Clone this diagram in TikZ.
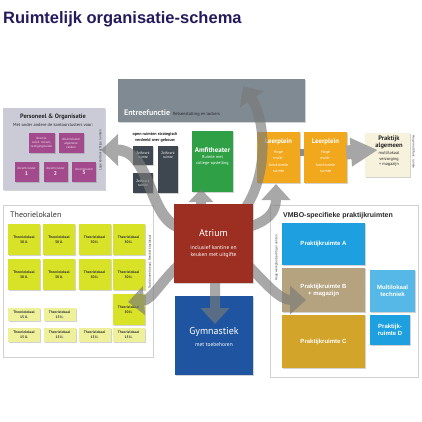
\documentclass[tikz,border=0pt]{standalone}
\usepackage{fontspec}
\setmainfont{Liberation Sans}
\newfontfamily\my{PT Sans}
\usetikzlibrary{arrows.meta,shadows}
\newcommand\myfs[2]{\fontsize{#1}{#2}\selectfont}
\definecolor{titlec}{HTML}{241A5C}
\definecolor{persoc}{HTML}{CBCBD8}
\definecolor{purp}{HTML}{A24A8C}
\definecolor{entreec}{HTML}{808A93}
\definecolor{zelfc}{HTML}{3E474F}
\definecolor{amfic}{HTML}{30A046}
\definecolor{leerc}{HTML}{F2A81D}
\definecolor{prakc}{HTML}{F6F2DC}
\definecolor{yelc}{HTML}{D8E226}
\definecolor{paleyel}{HTML}{EEF19A}
\definecolor{atric}{HTML}{9C2F22}
\definecolor{gymc}{HTML}{1F55A0}
\definecolor{pac}{HTML}{1EA0E0}
\definecolor{pbc}{HTML}{B5A37F}
\definecolor{pcc}{HTML}{D2A42A}
\definecolor{mlc}{HTML}{56B8E6}
\definecolor{arrc}{HTML}{7A7A7A}
\tikzset{
  box/.style={draw=none, inner sep=0.5pt, align=center,
    drop shadow={opacity=0.35, shadow xshift=1.2pt, shadow yshift=-1.2pt}},
  frame/.style={draw=black!18, line width=0.8pt, fill=white,
    drop shadow={opacity=0.2, shadow xshift=1.2pt, shadow yshift=-1.2pt}},
  vtext/.style={font=\my\myfs{3.3}{4}, text=black!80, inner sep=0pt},
  txt/.style={inner sep=0pt, align=center},
  yel/.style={box, fill=yelc, minimum width=32pt, minimum height=31pt,
    font=\my\bfseries\myfs{3.6}{5}, text=black!80},
  syel/.style={box, fill=paleyel, minimum width=32pt, minimum height=13.5pt,
    font=\my\bfseries\myfs{3.6}{4.6}, text=black!80},
  purpbox/.style={box, fill=purp, font=\my\myfs{3.2}{3.9}, text=white!85!purp},
  zelf/.style={box, fill=zelfc, minimum width=20pt, font=\my\myfs{3.6}{4.4}, text=white!80},
  garrow/.style={draw=arrc, line width=10pt, -{Triangle[width=28pt,length=16pt]}},
}
\begin{document}
\begin{tikzpicture}[x=1pt,y=-1pt]
\useasboundingbox (0,0) rectangle (422,422);

% title
\node[anchor=base west, inner sep=0pt, font=\bfseries\myfs{16.5}{18}, text=titlec] (title) at (3,24) {Ruimtelijk organisatie-schema};

% Personeel & Organisatie
\node[box, fill=persoc, minimum width=102pt, minimum height=82pt] (perso) at (54,149) {};
\node[txt, font=\my\bfseries\myfs{6.3}{7}, text=black!85] (persot) at (53,117) {Personeel \& Organisatie};
\node[txt, font=\my\myfs{4.4}{5}, text=black!85] (persos) at (53,125) {Met onder andere de kantoorclusters voor:};
\node[purpbox, minimum width=26pt, minimum height=20pt] (pu1) at (41.5,143) {directie,\\coörd. docent,\\vestigingsleider};
\node[purpbox, minimum width=25pt, minimum height=20pt] (pu2) at (71,143) {docentcluster\\algemene\\vakken};
\node[purpbox, minimum width=24pt, minimum height=20pt] (pu3) at (26.5,171.5) {docentcluster\\[0.5pt]{\myfs{5.5}{6}\bfseries 1}};
\node[purpbox, minimum width=24pt, minimum height=20pt] (pu4) at (55.5,171.5) {docentcluster\\[0.5pt]{\myfs{5.5}{6}\bfseries 2}};
\node[purpbox, minimum width=24pt, minimum height=20pt] (pu5) at (84,171.5) {docentcluster\\[0.5pt]{\myfs{5.5}{6}\bfseries 3}};
\node[vtext, rotate=90] (persov) at (100.5,150) {Lage kantoorachtige ruimten};

% Entreefunctie
\node[box, fill=entreec, minimum width=187pt, minimum height=43pt] (entree) at (211.5,100.5) {};
\node[anchor=base west, inner sep=0pt, font=\my\bfseries\myfs{8}{9}, text=white!92!entreec] (entreet) at (124,115.5) {Entreefunctie};
\node[anchor=base west, inner sep=0pt, xshift=2.5pt, font=\my\myfs{4.4}{5}, text=black!85] (entrees) at (entreet.base east) {fietsenstalling en lockers};

% open ruimten / zelfwerk
\node[txt, font=\my\bfseries\myfs{4.2}{5.6}, text=black!90] (open) at (155,137.5) {open ruimten strategisch\\verdeeld over gebouw};
\node[zelf, minimum height=19pt] (z1) at (143,155.5) {Zelfwerk\\ruimte};
\node[zelf, minimum height=47pt] (z2) at (168,169.5) {};
\node[txt, font=\my\myfs{3.6}{4.4}, text=white!80] (z2t) at (168,155.5) {Zelfwerk\\ruimte};
\node[zelf, minimum height=20pt] (z3) at (143,183) {Zelfwerk\\ruimte};

% Amfitheater
\node[box, fill=amfic, minimum width=41pt, minimum height=61pt] (amfi) at (212.5,161.5) {};
\node[txt, font=\my\bfseries\myfs{7}{8}, text=white] (amfit) at (212.5,150) {Amfitheater};
\node[txt, font=\my\myfs{4.2}{6}, text=white!90] (amfis) at (212.5,160.5) {Ruimte met\\college-opstelling};

% Leerplein
\node[box, fill=leerc, minimum width=43pt, minimum height=51pt] (lp1) at (278.5,157.5) {};
\node[box, fill=leerc, minimum width=43pt, minimum height=51pt] (lp2) at (325.5,157.5) {};
\node[txt, font=\my\bfseries\myfs{6.8}{8}, text=white] (lp1t) at (278.5,142) {Leerplein};
\node[txt, font=\my\bfseries\myfs{6.8}{8}, text=white] (lp2t) at (325.5,142) {Leerplein};
\node[txt, font=\my\myfs{4}{6.3}, text=white!92] (lp1s) at (278.5,161.5) {Hoge\\multi-\\functionele\\ruimte};
\node[txt, font=\my\myfs{4}{6.3}, text=white!92] (lp2s) at (325.5,161.5) {Hoge\\multi-\\functionele\\ruimte};
\draw[line width=7pt, draw=black!45] ([yshift=5.5pt]lp1.east) -- ([yshift=5.5pt]lp2.west);

% Praktijk algemeen
\node[box, fill=prakc, minimum width=45pt, minimum height=44pt] (prak) at (387.5,155) {};
\node[txt, font=\my\bfseries\myfs{6.5}{6.8}, text=black!85] (prakt) at (389,142.5) {Praktijk\\algemeen};
\node[txt, font=\my\myfs{4.3}{5.8}, text=black!85] (praks) at (389,159) {multilokaal\\verzorging\\+ magazijn};
\node[vtext, rotate=-90] (prakv) at (413.5,152) {Hoge multifunc. ruimte};
\coordinate (praktip) at ([xshift=13pt,yshift=5pt]prak.west);
\draw[draw=black!35, line width=14pt, -{Triangle[width=27pt,length=27pt]}] ([yshift=5pt,xshift=-1pt]lp2.east) -- (praktip);

% Theorielokalen
\node[frame, minimum width=150pt, minimum height=152pt] (theo) at (78,281) {};
\node[anchor=base west, inner sep=0pt, font=\my\myfs{8}{9}, text=black!80] (theot) at (10,217) {Theorielokalen};
\foreach \c [count=\i] in {24,59,94.5,128.5} {
  \foreach \r [count=\j] in {239.5,274.5} {
    \node[yel] (t\i\j) at (\c,\r) {Theorielokaal\\30 ll.};
  }
}
\node[yel] (t43) at (128.5,309.5) {Theorielokaal\\30 ll.};
\node[syel] (s1) at (24,314.5) {Theorielokaal\\15 ll.};
\node[syel] (s2) at (59.5,314.5) {Theorielokaal\\15 ll.};
\foreach \c [count=\i from 3] in {24,59.5,94.5,128.5} {
  \node[syel] (s\i) at (\c,335) {Theorielokaal\\15 ll.};
}
\node[vtext, rotate=90] (theov) at (150,262) {Traditioneel lokaal, flexibel klaslokaal};

% VMBO
\node[frame, minimum width=148pt, minimum height=172pt] (vmbo) at (344,291) {};
\node[anchor=base west, inner sep=0pt, font=\bfseries\myfs{7}{8}, text=black!85] (vmbot) at (283,217) {VMBO-specifieke praktijkruimten};
\node[vtext, rotate=90] (vmbov) at (276.5,258) {Hoge werkplaatsachtige ruimten};
\node[box, fill=pac, minimum width=83pt, minimum height=42pt, font=\bfseries\myfs{6}{7}, text=white] (pa) at (323.5,244) {Praktijkruimte A};
\node[box, fill=pbc, minimum width=83pt, minimum height=44pt, font=\bfseries\myfs{6}{7}, text=white!92] (pb) at (323.5,290) {Praktijkruimte B\\+ magazijn};
\node[box, fill=pcc, minimum width=83pt, minimum height=53pt, font=\bfseries\myfs{6}{7}, text=white!92] (pc) at (323.5,341.5) {Praktijkruimte C};
\node[box, fill=mlc, minimum width=45pt, minimum height=42pt, font=\bfseries\myfs{6}{7}, text=white] (ml) at (392.5,291) {Multilokaal\\techniek};
\node[box, fill=pac, minimum width=40pt, minimum height=30pt, font=\bfseries\myfs{6}{7}, text=white] (pd) at (390,330) {Praktijk-\\ruimte D};

% Gymnastiek
\node[box, fill=gymc, minimum width=78pt, minimum height=79pt] (gym) at (214,335.5) {};
\node[txt, font=\my\myfs{10}{11}, text=white] (gymt) at (214,332) {Gymnastiek};
\node[txt, font=\my\myfs{5.5}{6.5}, text=white!90] (gyms) at (214,345) {met toebehoren};

% arrows from atrium
\coordinate (sP) at (182,228);  \coordinate (tipP) at (101,150);
\coordinate (sT) at (182,262);  \coordinate (tipT) at (128,302);
\coordinate (sA) at (201,215);  \coordinate (tipA) at (201,189);
\coordinate (sE) at (240,215);  \coordinate (tipE) at (243,86);
\coordinate (sL) at (245,228);  \coordinate (tipL) at (276,184);
\coordinate (sG) at (215,270);  \coordinate (tipG) at (215,324);
\coordinate (sV) at (245,262);  \coordinate (tipV) at (306,300);
\begin{scope}[transparency group, opacity=0.65]
  \draw[garrow, line width=11pt, -{Triangle[width=31pt,length=17pt]}] (sP) .. controls (148,222) and (152,150) .. (tipP);
  \draw[garrow] (sT) .. controls (160,282) and (152,300) .. (tipT);
  \draw[garrow, -{Triangle[width=24pt,length=13pt]}] (sA) -- (tipA);
  \draw[garrow] (sE) .. controls (270,180) and (266,120) .. (tipE);
  \draw[garrow] (sL) .. controls (268,222) and (276,212) .. (tipL);
  \draw[garrow] (sG) -- (tipG);
  \draw[garrow] (sV) .. controls (268,286) and (280,300) .. (tipV);
\end{scope}

% Atrium
\node[box, fill=atric, minimum width=79pt, minimum height=79pt] (atr) at (213.5,243.5) {};
\node[txt, font=\my\myfs{10}{11}, text=white] (atrt) at (213.5,233) {Atrium};
\node[txt, font=\my\myfs{5.5}{7}, text=white!90] (atrs) at (213.5,251.5) {inclusief kantine en\\keuken met uitgifte};
\end{tikzpicture}
\end{document}
